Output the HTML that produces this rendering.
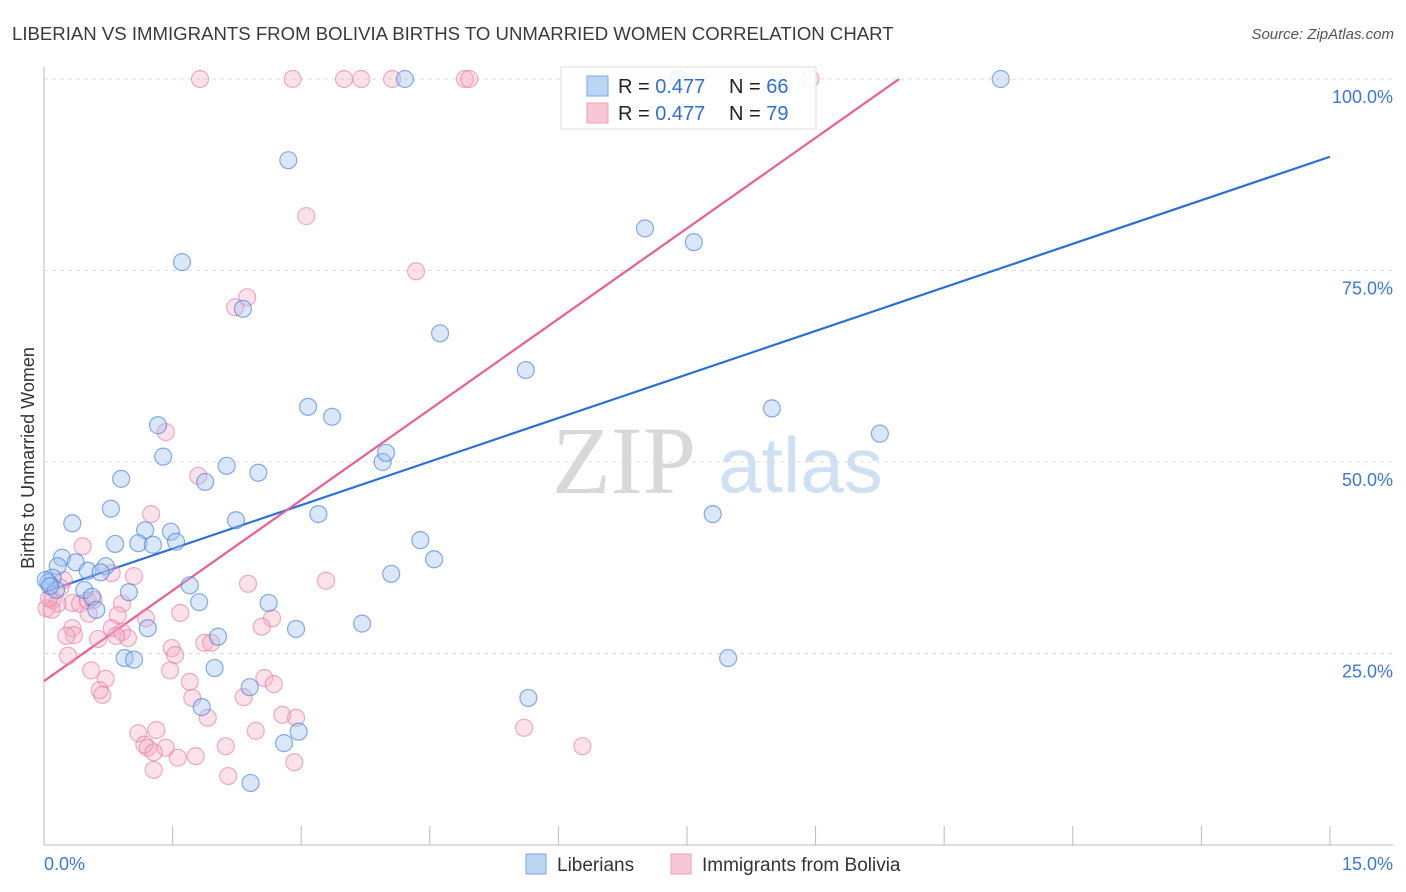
<!DOCTYPE html>
<html><head><meta charset="utf-8"><style>
body{margin:0;background:#fff;font-family:"Liberation Sans",sans-serif;}
#wrap{position:relative;width:1406px;height:892px;overflow:hidden;}
</style></head><body>
<div id="wrap">
<svg id="chart" width="1406" height="892">
<text x="12" y="40" font-size="18.6" fill="#3a3a3a">LIBERIAN VS IMMIGRANTS FROM BOLIVIA BIRTHS TO UNMARRIED WOMEN CORRELATION CHART</text>
<text x="1394" y="39" font-size="15" fill="#555" text-anchor="end" font-style="italic">Source: ZipAtlas.com</text>
<text x="0" y="0" transform="translate(34,458) rotate(-90)" font-size="18" fill="#333" text-anchor="middle">Births to Unmarried Women</text>
<g id="watermark">
<text x="552" y="493" font-size="96" font-family="Liberation Serif,serif" fill="#d8d8d8">ZIP</text>
<text x="718" y="492" font-size="78" fill="#cfe0f3">atlas</text>
</g>
<g id="grid"></g><g id="axes"></g><g id="lines"></g><g id="pts"></g>
<g>
<rect x="561" y="67" width="255" height="62" fill="#fff" fill-opacity="0.85" stroke="#ddd"/>
<rect x="587" y="76" width="21" height="20" fill="#bcd5f5" stroke="#7aaae6"/>
<rect x="587" y="103" width="21" height="20" fill="#f8c6d6" stroke="#f0a0bb"/>
<text x="618" y="93" font-size="20" fill="#222">R = <tspan fill="#2f6fd0">0.477</tspan></text>
<text x="729" y="93" font-size="20" fill="#222">N = <tspan fill="#2f6fd0">66</tspan></text>
<text x="618" y="120" font-size="20" fill="#222">R = <tspan fill="#2f6fd0">0.477</tspan></text>
<text x="729" y="120" font-size="20" fill="#222">N = <tspan fill="#2f6fd0">79</tspan></text>
</g>
<g>
<rect x="526" y="854" width="20" height="20" fill="#bcd5f5" stroke="#7aaae6"/>
<text x="557" y="871" font-size="19" fill="#333">Liberians</text>
<rect x="671" y="854" width="20" height="20" fill="#f8c6d6" stroke="#f0a0bb"/>
<text x="702" y="871" font-size="19" fill="#333">Immigrants from Bolivia</text>
</g>
</svg>
</div>
<script>
const blueX=[4.21,11.16,7.40,2.85,1.61,7.01,7.58,2.32,4.62,5.62,3.08,3.36,8.49,9.75,1.33,1.39,2.13,2.50,1.88,3.95,3.99,0.90,0.78,0.33,2.24,3.20,7.80,1.18,1.48,0.83,1.10,1.27,1.54,4.39,4.55,0.21,0.37,0.16,0.51,0.72,0.66,4.05,1.70,0.99,0.47,0.56,0.61,0.10,0.05,0.14,1.81,2.62,1.21,2.94,3.71,2.03,0.94,1.05,7.98,1.99,2.40,5.65,1.84,2.97,2.80,2.41,0.02,0.07];
const blueY=[100,100,100,89.4,76.1,80.5,78.7,70.0,66.8,62.0,57.2,55.9,57.0,53.7,54.8,50.7,49.5,48.6,47.4,50.0,51.2,47.8,43.9,42.0,42.4,43.2,43.2,41.1,40.9,39.3,39.4,39.2,39.6,39.8,37.3,37.5,36.9,36.4,35.8,36.4,35.6,35.4,33.9,33.0,33.3,32.4,30.7,34.9,34.3,33.3,31.7,31.6,28.3,28.2,28.9,27.2,24.4,24.2,24.4,23.1,20.6,19.2,18.0,14.8,13.3,8.1,34.6,33.8];
const pinkX=[1.82,2.90,3.50,3.70,4.06,4.91,4.96,8.94,3.06,4.34,2.37,2.23,1.42,1.80,1.25,0.45,0.23,0.10,0.16,0.03,0.09,0.33,0.42,0.51,0.79,1.05,0.58,0.91,0.86,1.19,1.59,0.52,2.38,3.29,2.66,2.54,0.33,0.35,0.26,0.79,0.91,0.63,0.98,0.84,1.49,1.53,1.87,1.95,0.28,0.55,1.47,0.72,1.70,2.57,2.68,0.65,0.68,1.73,2.33,1.91,2.78,2.94,1.10,1.31,1.21,1.17,1.42,1.28,1.56,1.77,2.12,2.47,1.28,2.15,2.92,5.60,6.28,0.19,0.06];
const pinkY=[100,100,100,100,100,100,100,100,82.1,74.9,71.5,70.2,53.9,48.2,43.2,39.0,34.6,32.0,31.5,30.9,30.7,31.6,31.5,31.9,35.5,35.1,32.0,31.5,30.0,29.6,30.3,30.2,34.1,34.5,29.6,28.5,28.3,27.4,27.3,28.3,27.8,26.9,27.0,27.3,25.7,24.8,26.4,26.4,24.7,22.8,22.8,21.7,21.3,21.8,21.0,20.2,19.6,19.2,19.3,16.6,17.0,16.6,14.6,15.0,12.7,13.1,12.7,12.1,11.4,11.6,12.9,14.9,9.8,9.0,10.8,15.3,12.9,33.6,32.2];
const trendIntercepts=[33.0,21.4];
const trendSlopes=[3.79,7.88];
const yTicks=[25,50,75,100];
const yTickLabels=["25.0%","50.0%","75.0%","100.0%"];
const xTickValues=[0,1.5,3,4.5,6,7.5,9,10.5,12,13.5,15];
const xLabels=["0.0%","15.0%"];

const NS="http://www.w3.org/2000/svg";
const X0=44,XS=85.73,Y0=845,YS=7.66;
const sx=v=>X0+v*XS, sy=v=>Y0-v*YS;
function mk(tag,attrs,parent){const e=document.createElementNS(NS,tag);for(const k in attrs)e.setAttribute(k,attrs[k]);parent.appendChild(e);return e;}
const grid=document.getElementById('grid'),axes=document.getElementById('axes'),lines=document.getElementById('lines'),pts=document.getElementById('pts');
yTicks.forEach((t,i)=>{
  const l=mk('line',{x1:44,x2:1393,y1:sy(t),y2:sy(t),stroke:'#ddd','stroke-dasharray':'4,4'},grid);
  
  
  const tx=mk('text',{x:1393,y:sy(t)+24,'font-size':18,fill:'#3b78d8','text-anchor':'end'},axes);
  tx.textContent=yTickLabels[i];
  
  
});
const yax=mk('line',{x1:44,x2:44,y1:67,y2:845,stroke:'#bbb'},axes);


const xax=mk('line',{x1:44,x2:1393,y1:845,y2:845,stroke:'#bbb'},axes);


xTickValues.forEach(t=>{
  const l=mk('line',{x1:sx(t),x2:sx(t),y1:826,y2:845,stroke:'#bbb'},axes);
  
  
});
const xl0=mk('text',{x:44,y:870,'font-size':18,fill:'#3b78d8'},axes);xl0.textContent=xLabels[0];


const xl1=mk('text',{x:1393,y:870,'font-size':18,fill:'#3b78d8','text-anchor':'end'},axes);xl1.textContent=xLabels[1];



function dots(xs,ys,fill,stroke,name){xs.forEach((x,i)=>{
  const c=mk('circle',{cx:sx(x),cy:sy(ys[i]),r:8.5,fill:fill,stroke:stroke,'stroke-width':1.2},pts);
  
  
});}
dots(pinkX,pinkY,'rgba(244,170,196,0.35)','rgba(232,120,160,0.6)','bolivia-point');
dots(blueX,blueY,'rgba(160,196,240,0.4)','rgba(60,120,215,0.6)','liberian-point');

const b=mk('line',{x1:sx(0),y1:sy(trendIntercepts[0]),x2:sx(15),y2:sy(trendIntercepts[0]+trendSlopes[0]*15),stroke:'#2a6fd6','stroke-width':2.2},lines);


const xe=(100-trendIntercepts[1])/trendSlopes[1];
const p=mk('line',{x1:sx(0),y1:sy(trendIntercepts[1]),x2:sx(xe),y2:sy(100),stroke:'#e8608f','stroke-width':2.2},lines);


</script>
</body></html>
